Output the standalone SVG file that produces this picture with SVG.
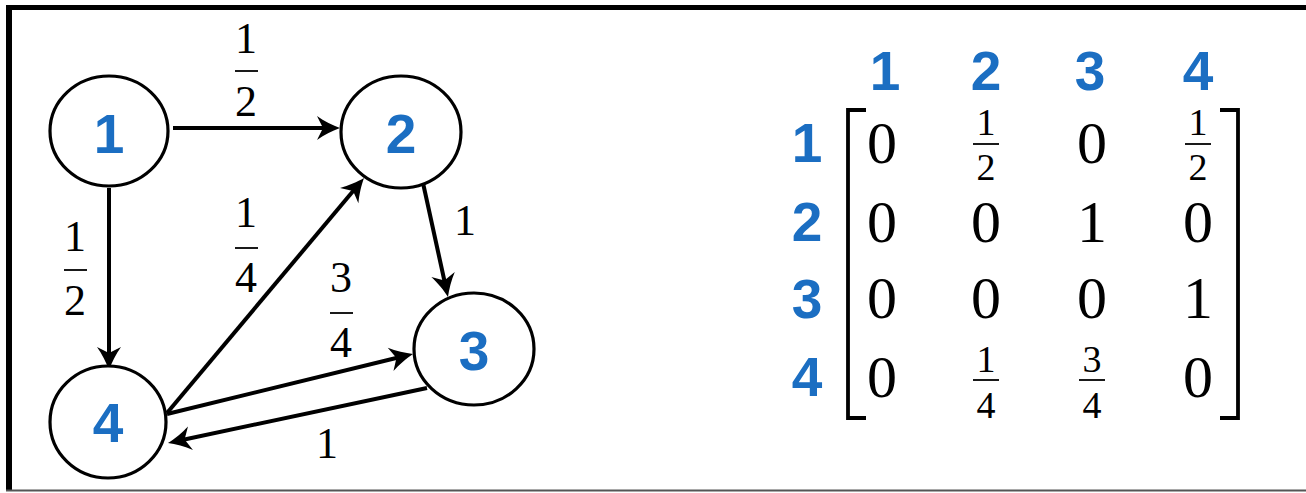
<svg xmlns="http://www.w3.org/2000/svg" width="1306" height="493" viewBox="0 0 1306 493">
  <style>
    .node ellipse { fill: #fff; stroke: #000; stroke-width: 3.2; }
    .id { font-family: "Liberation Sans", Arial, sans-serif; font-weight: bold; font-size: 55px; fill: #1b6ec2; text-anchor: middle; }
    .edge { stroke: #000; stroke-width: 4; fill: none; }
    .lbl { font-family: "Liberation Serif", "Times New Roman", serif; font-size: 44px; fill: #000; text-anchor: middle; }
    .bar { stroke: #000; stroke-width: 1.8; }
    .ent { font-family: "Liberation Serif", "Times New Roman", serif; font-size: 60px; fill: #000; text-anchor: middle; }
    .frac { font-family: "Liberation Serif", "Times New Roman", serif; font-size: 38px; fill: #000; text-anchor: middle; }
    .brk { stroke: #000; stroke-width: 3.8; fill: none; }
  </style>
  <defs>
    <marker id="arrow" markerUnits="userSpaceOnUse" viewBox="-26 -14 28 28" refX="-12" refY="0" markerWidth="28" markerHeight="28" orient="auto">
      <path d="M0,0 C-7,-2.5 -16,-7 -23,-12 L-17,0 L-23,12 C-16,7 -7,2.5 0,0 Z" fill="#000"/>
    </marker>
  </defs>

  <!-- frame -->
  <rect x="0" y="0" width="1306" height="493" fill="#fff"/>
  <rect x="6" y="5" width="1300" height="5" fill="#000"/>
  <rect x="6" y="5" width="6" height="486" fill="#000"/>
  <line x1="6" y1="490.5" x2="1306" y2="490.5" stroke="#555" stroke-width="2"/>

  <!-- connectors -->
  <g id="edges">
    <line class="edge" x1="173" y1="128" x2="328" y2="128" marker-end="url(#arrow)"/>
    <line class="edge" x1="109" y1="188" x2="109" y2="358" marker-end="url(#arrow)"/>
    <line class="edge" x1="423" y1="183" x2="445.4" y2="285.3" marker-end="url(#arrow)"/>
    <line class="edge" x1="167" y1="413" x2="356.3" y2="187.2" marker-end="url(#arrow)"/>
    <line class="edge" x1="167" y1="414" x2="401.3" y2="356.8" marker-end="url(#arrow)"/>
    <line class="edge" x1="427" y1="388" x2="179.7" y2="440.5" marker-end="url(#arrow)"/>

    <!-- edge weights -->
    <g id="w12">
      <text class="lbl" x="246" y="53">1</text>
      <line class="bar" x1="235" y1="71" x2="258" y2="71"/>
      <text class="lbl" x="246" y="116">2</text>
    </g>
    <g id="w14">
      <text class="lbl" x="75" y="251">1</text>
      <line class="bar" x1="64" y1="270" x2="87" y2="270"/>
      <text class="lbl" x="75" y="315">2</text>
    </g>
    <g id="w42">
      <text class="lbl" x="246" y="227">1</text>
      <line class="bar" x1="235" y1="248" x2="258" y2="248"/>
      <text class="lbl" x="246" y="292">4</text>
    </g>
    <g id="w43">
      <text class="lbl" x="341" y="292">3</text>
      <line class="bar" x1="330" y1="313" x2="353" y2="313"/>
      <text class="lbl" x="341" y="357">4</text>
    </g>
    <text id="w23" class="lbl" x="465" y="235">1</text>
    <text id="w34" class="lbl" x="327" y="458">1</text>
  </g>

  <!-- nodes -->
  <g id="node1" class="node">
    <ellipse cx="109" cy="131" rx="59" ry="55"/>
    <text class="id" x="109" y="153">1</text>
  </g>
  <g id="node2" class="node">
    <ellipse cx="401" cy="132" rx="60" ry="56"/>
    <text class="id" x="401" y="153">2</text>
  </g>
  <g id="node3" class="node">
    <ellipse cx="474" cy="349" rx="60" ry="56"/>
    <text class="id" x="474" y="370">3</text>
  </g>
  <g id="node4" class="node">
    <ellipse cx="108" cy="422" rx="58" ry="56"/>
    <text class="id" x="108" y="442">4</text>
  </g>

  <!-- transition matrix -->
  <g id="matrix">
    <text class="id" x="885" y="90">1</text>
    <text class="id" x="986" y="90">2</text>
    <text class="id" x="1090" y="90">3</text>
    <text class="id" x="1198" y="90">4</text>

    <text class="id" x="807" y="162">1</text>
    <text class="id" x="807" y="241">2</text>
    <text class="id" x="807" y="318">3</text>
    <text class="id" x="807" y="396">4</text>

    <path class="brk" d="M866,110 H848 V418 H866"/>
    <path class="brk" d="M1220,110 H1238 V418 H1220"/>

    <!-- row 1 -->
    <text class="ent" x="882" y="163">0</text>
    <text class="frac" x="986" y="135">1</text>
    <line class="bar" x1="973" y1="144" x2="999" y2="144"/>
    <text class="frac" x="986" y="180">2</text>
    <text class="ent" x="1092" y="163">0</text>
    <text class="frac" x="1198" y="135">1</text>
    <line class="bar" x1="1185" y1="144" x2="1211" y2="144"/>
    <text class="frac" x="1198" y="180">2</text>

    <!-- row 2 -->
    <text class="ent" x="882" y="242">0</text>
    <text class="ent" x="986" y="242">0</text>
    <text class="ent" x="1092" y="242">1</text>
    <text class="ent" x="1198" y="242">0</text>

    <!-- row 3 -->
    <text class="ent" x="882" y="318">0</text>
    <text class="ent" x="986" y="318">0</text>
    <text class="ent" x="1092" y="318">0</text>
    <text class="ent" x="1198" y="318">1</text>

    <!-- row 4 -->
    <text class="ent" x="882" y="397">0</text>
    <text class="frac" x="986" y="372">1</text>
    <line class="bar" x1="973" y1="380" x2="999" y2="380"/>
    <text class="frac" x="986" y="418">4</text>
    <text class="frac" x="1092" y="372">3</text>
    <line class="bar" x1="1079" y1="380" x2="1105" y2="380"/>
    <text class="frac" x="1092" y="418">4</text>
    <text class="ent" x="1198" y="397">0</text>
  </g>
</svg>
